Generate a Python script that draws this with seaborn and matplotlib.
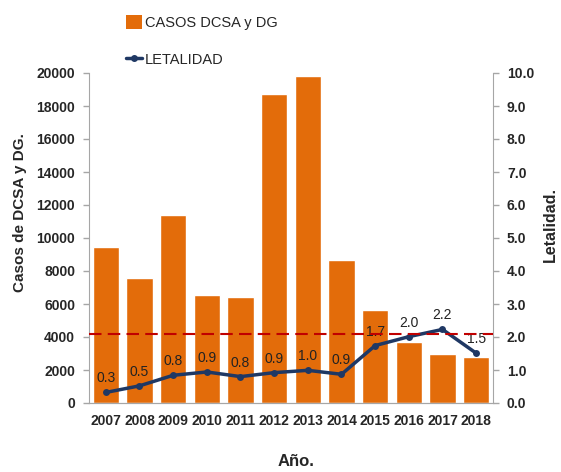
import numpy as np
import pandas as pd
import matplotlib
matplotlib.use("Agg")
import matplotlib.pyplot as plt
import seaborn as sns
from matplotlib.patches import Patch
from matplotlib.lines import Line2D

years = ["2007", "2008", "2009", "2010", "2011", "2012",
         "2013", "2014", "2015", "2016", "2017", "2018"]
casos = [9450, 7600, 11400, 6550, 6420, 18700,
         19800, 8650, 5620, 3720, 2970, 2790]
letalidad = [0.32, 0.52, 0.84, 0.94, 0.80, 0.92,
             0.99, 0.87, 1.74, 2.01, 2.23, 1.51]
umbral = 2.08

bar_color = "#E36C0A"
line_color = "#1F3864"
gray = "#A6A6A6"

sns.set_style("white")
plt.rcParams["font.family"] = ["Liberation Sans", "DejaVu Sans"]

df = pd.DataFrame({"year": years, "casos": casos, "letalidad": letalidad})

fig = plt.figure(figsize=(5.61, 4.72), dpi=100)
ax = fig.add_axes([89 / 561, 1 - 403 / 472, 404 / 561, 330 / 472])

sns.barplot(data=df, x="year", y="casos", color=bar_color, width=0.78,
            saturation=1, ax=ax)
ax.set_ylim(0, 20000)
ax.set_xlim(-0.5, len(years) - 0.5)
ax.set_yticks(np.arange(0, 20001, 2000))

ax2 = ax.twinx()
x = np.arange(len(years))
sns.lineplot(x=x, y=df["letalidad"], color=line_color, linewidth=2.5,
             marker="o", markersize=5, markeredgewidth=0, ax=ax2)
ax2.axhline(umbral, color="#C00000", linestyle=(0, (6, 3)), linewidth=1.5,
            zorder=5)
ax2.set_ylim(0, 10)
ax2.set_yticks(np.arange(0, 10.01, 1))
ax2.set_yticklabels([f"{v:.1f}" for v in np.arange(0, 10.01, 1)])
ax2.set_xlim(-0.5, len(years) - 0.5)

for xi, v in zip(x, letalidad):
    ax2.annotate(f"{v:.1f}", (xi, v), xytext=(0, 5), textcoords="offset points",
                 ha="center", va="bottom", fontsize=10, color="#222222")

for a in (ax, ax2):
    for s in a.spines.values():
        s.set_color(gray)
    a.spines["top"].set_visible(False)
    a.tick_params(axis="y", length=4, color=gray, width=1, pad=6,
                  labelsize=10)
    for lab in a.get_yticklabels():
        lab.set_fontweight("bold")
ax2.spines["left"].set_visible(False)
ax.spines["right"].set_visible(False)

ax.set_xticks(np.arange(-0.5, len(years), 1), minor=True)
ax.tick_params(axis="x", which="major", length=0, pad=8, labelsize=10)
ax.tick_params(axis="x", which="minor", length=5, color=gray, width=1)
for lab in ax.get_xticklabels():
    lab.set_fontweight("bold")

ax.set_xlabel("")
ax.set_ylabel("")
ax2.set_ylabel("")
fig.text(20 / 561, 1 - 213 / 472, "Casos de DCSA y DG.", rotation=90,
         ha="center", va="center", fontsize=11, fontweight="bold")
fig.text(550 / 561, 1 - 225 / 472, "Letalidad.", rotation=90,
         ha="center", va="center", fontsize=11.5, fontweight="bold")
fig.text(296 / 561, 1 - 461 / 472, "Año.", ha="center", va="center",
         fontsize=12, fontweight="bold")

handles = [Patch(facecolor=bar_color, edgecolor="none"),
           Line2D([0], [0], color=line_color, linewidth=2.5, marker="o",
                  markersize=4)]
fig.legend(handles, ["CASOS DCSA y DG", "LETALIDAD"],
           loc="upper left", bbox_to_anchor=(113 / 561, 1 - 2 / 472),
           frameon=False, handlelength=1.1, handleheight=1.1,
           handletextpad=0.2, labelspacing=1.5,
           prop={"size": 10.5})

fig.savefig("out.png", dpi=100)
